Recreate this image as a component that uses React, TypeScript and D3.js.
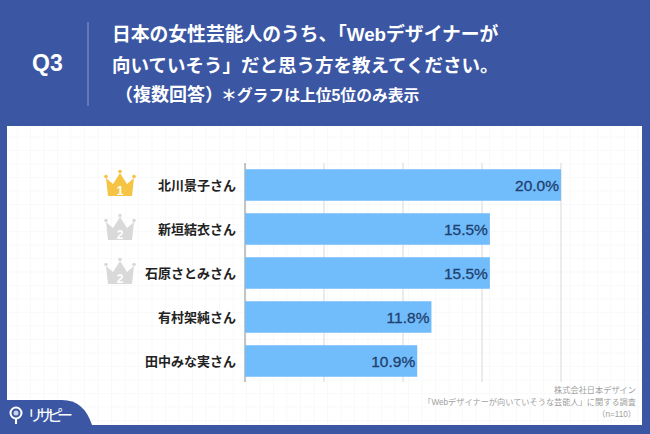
import React from "react";
import { scaleBand, scaleLinear, range, line } from "d3";

const names = ["北川景子さん", "新垣結衣さん", "石原さとみさん", "有村架純さん", "田中みな実さん"];
const values = [20.0, 15.5, 15.5, 11.8, 10.9];
const ranks = [1, 2, 2, 0, 0];
const ticks = [0, 5, 10, 15, 20];
const titleLines = ["日本の女性芸能人のうち、「Webデザイナーが", "向いていそう」だと思う方を教えてください。"];
const sourceLines = ["株式会社日本デザイン", "「Webデザイナーが向いていそうな芸能人」に関する調査", "（n=110）"];

const BLUE = "#3B57A4";
const BAR = "#71BCFB";
const FONT = '"Liberation Sans", "Noto Sans CJK JP", sans-serif';

const x = scaleLinear().domain([0, 20]).range([245, 561]);
const y = scaleBand<string>().domain(names).range([163, 383]).paddingInner(0.284).paddingOuter(0.142);

// crown outline, centred on the row
const crownPts: [number, number][] = [
  [-12, 12], [-14, -6], [-7, 0], [0, -11], [7, 0], [14, -6], [12, 12],
];
const crownPath = line()(crownPts) + "Z";
const crownTips: [number, number][] = [[-14, -7.5], [0, -12.5], [14, -7.5]];

const Crown = ({ rank, cy }: { rank: number; cy: number }) => {
  const color = rank === 1 ? "#F5C444" : "#D9D9D9";
  return (
    <g transform={`translate(120,${cy})`}>
      <path d={crownPath} fill={color} />
      {crownTips.map((t, i) => (
        <circle key={i} cx={t[0]} cy={t[1]} r={1.8} fill={color} />
      ))}
      <text y={10.5} textAnchor="middle" fontSize={12} fontWeight={700} fill="#fff" fontFamily={FONT}>
        {rank}
      </text>
    </g>
  );
};

export default function App() {
  return (
    <svg width={650} height={434} style={{ position: "absolute", left: 0, top: 0 }} fontFamily={FONT}>
      <rect width={650} height={434} fill={BLUE} />
      <rect x={7} y={126} width={635} height={299} fill="#fff" />

      {/* faint background grid */}
      <g stroke="#F8F9FA" strokeWidth={1}>
        {range(17, 642, 13.5).map((g) => (
          <line key={g} x1={g} x2={g} y1={126} y2={425} />
        ))}
        {range(137, 425, 13.5).map((g) => (
          <line key={g} x1={7} x2={642} y1={g} y2={g} />
        ))}
      </g>

      {/* header */}
      <text x={32} y={71} fontSize={23} fontWeight={700} fill="#fff">Q3</text>
      <line x1={88} x2={88} y1={22} y2={106} stroke="#8C9CCB" strokeWidth={1} />
      {titleLines.map((t, i) => (
        <text key={t} x={112} y={41 + i * 31} fontSize={i === 0 ? 18.8 : 18.5} fontWeight={700} fill="#fff">
          {t}
        </text>
      ))}
      <text x={115} y={101} fontSize={18} fontWeight={700} fill="#fff">
        （複数回答）
        <tspan x={221} fontSize={15.8}>＊グラフは上位5位のみ表示</tspan>
      </text>

      {/* gridlines */}
      {ticks.map((t) => (
        <line key={t} x1={x(t)} x2={x(t)} y1={163} y2={382} stroke={t === 0 ? "#8A8A8A" : "#D8D8D8"} strokeWidth={1} />
      ))}

      {/* bars */}
      {names.map((n, i) => {
        const by = y(n)!;
        const cy = by + y.bandwidth() / 2;
        return (
          <g key={n}>
            <rect x={x(0)} y={by} width={x(values[i]) - x(0)} height={y.bandwidth()} fill={BAR} />
            <text
              x={x(values[i]) - 2}
              y={cy + 5.5}
              textAnchor="end"
              fontSize={15.5}
              fill="#1F3F6E"
              stroke="#1F3F6E"
              strokeWidth={0.3}
            >
              {values[i].toFixed(1)}%
            </text>
            <text x={236} y={cy + 4.5} textAnchor="end" fontSize={13} fontWeight={700} fill="#222">{n}</text>
            {ranks[i] > 0 && <Crown rank={ranks[i]} cy={cy - 1} />}
          </g>
        );
      })}

      {/* source */}
      {sourceLines.map((s, i) => (
        <text key={s} x={636} y={393 + i * 12} textAnchor="end" fontSize={8.2} fill="#A0A0A0">{s}</text>
      ))}

      {/* logo tab */}
      <path d="M0,400 H62 Q84,400 92,425 V434 H0 Z" fill={BLUE} />
      <circle cx={16} cy={413} r={5.5} fill="none" stroke="#fff" strokeWidth={2} />
      <circle cx={16} cy={413} r={2.5} fill="#C9D2E8" />
      <line x1={16} x2={16} y1={418} y2={424} stroke="#fff" strokeWidth={2} />
      <text x={27} y={421} fontSize={16} fill="#fff" textLength={46} lengthAdjust="spacing">リサピー</text>
    </svg>
  );
}
